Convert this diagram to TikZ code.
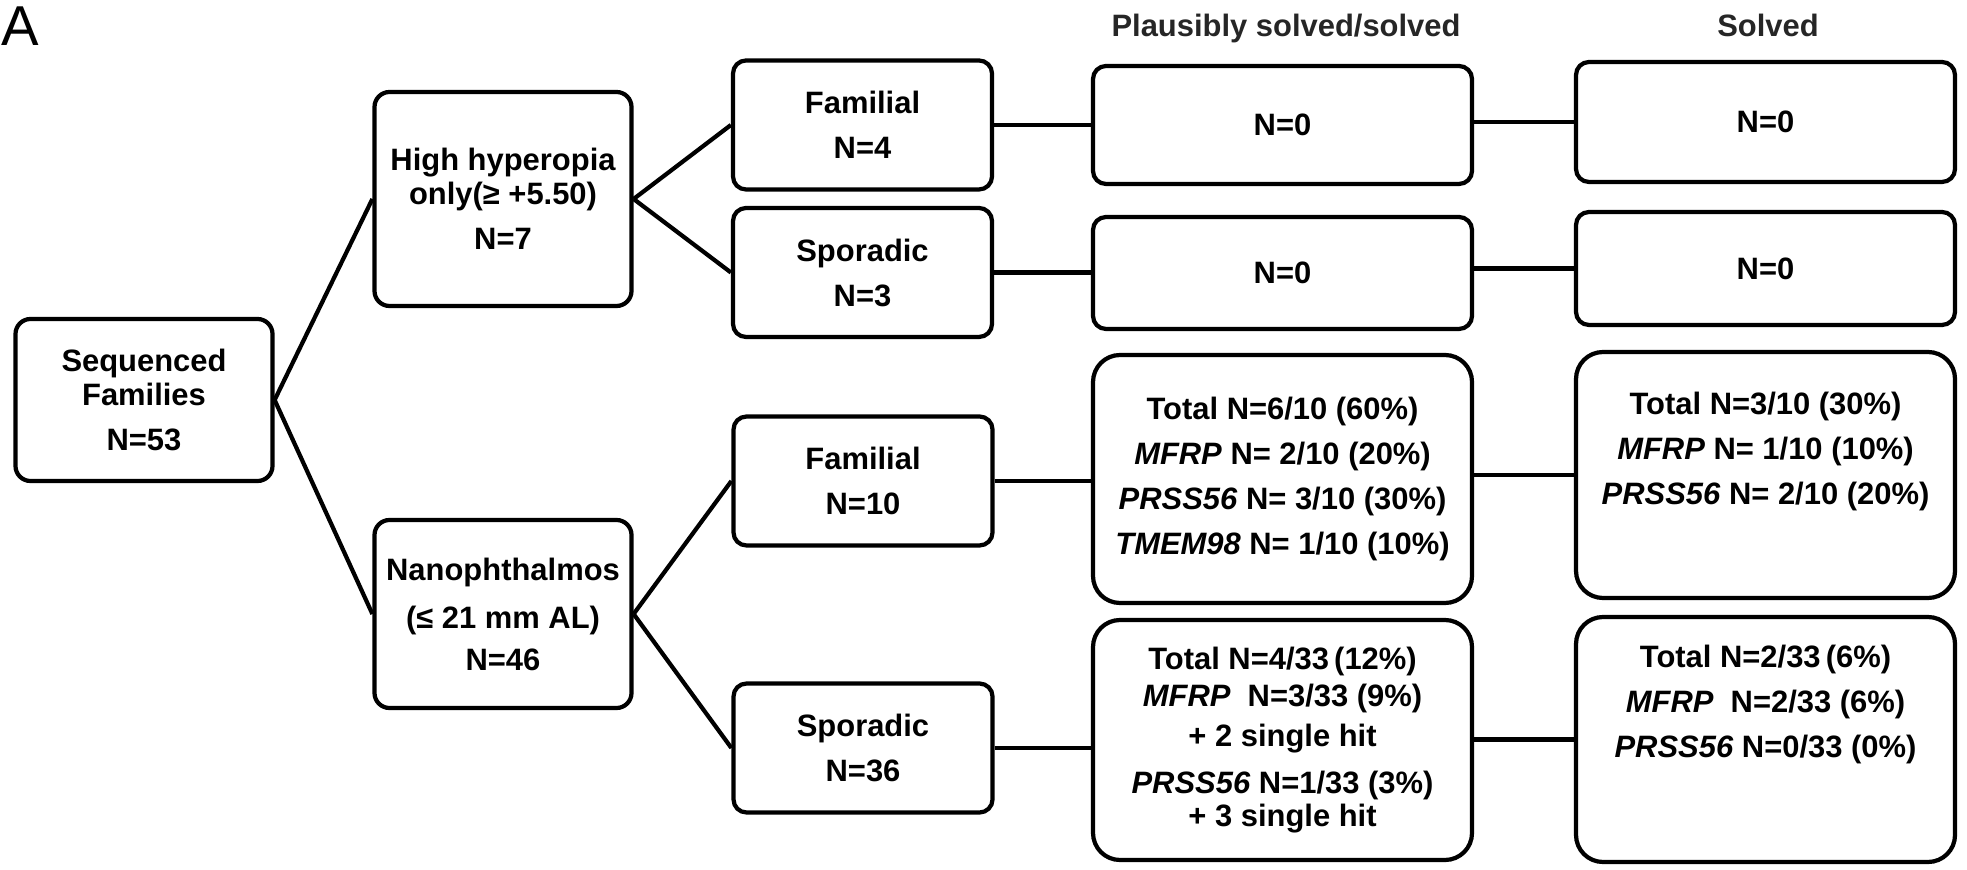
\documentclass[tikz,border=0pt]{standalone}
\usepackage{fontspec}
\setmainfont{Liberation Sans}
\usetikzlibrary{calc}

\begin{document}
\begin{tikzpicture}[
	box/.style={draw, line width=1.2pt, rounded corners=1.3mm, align=center, inner sep=0pt,
		font=\bfseries\fontsize{8.8}{12.8}\selectfont},
	groupbox/.style={box, minimum width=2.57cm, rounded corners=1.5mm},
	splitbox/.style={box, minimum width=2.59cm, minimum height=1.29cm},
	resbox/.style={box, minimum width=3.79cm},
	bigbox/.style={resbox, rounded corners=2.7mm},
	colhead/.style={anchor=base, text=black!85, font=\bfseries\fontsize{8.8}{10}\selectfont},
	link/.style={line width=1.2pt}
	]
	\useasboundingbox (0,0) rectangle (19.67,8.69);
	
	%panel letter
	\node[anchor=base west, inner sep=0pt, font=\fontsize{16}{16}\selectfont] (panel) at (0.01,8.23) {A};
	
	%column heads
	\node[colhead] (headplaus) at (12.86,8.32) {Plausibly solved/solved};
	\node[colhead] (headsolved) at (17.68,8.32) {Solved};
	
	%left boxes
	\node[groupbox, minimum height=1.62cm] (seq) at (1.44,4.69) {Sequenced\\[-3pt]Families\\N=53};
	\node[groupbox, minimum height=2.14cm] (hh) at (5.03,6.70) {High hyperopia\\[-3pt]only(≥ +5.50)\\N=7};
	\node[groupbox, minimum height=1.88cm] (nano) at (5.03,2.55) {Nanophthalmos\\[1pt](≤ 21 mm AL)\\[-1pt]N=46};
	
	%familial / sporadic
	\node[splitbox] (fam1) at (8.625,7.44) {Familial\\N=4};
	\node[splitbox] (spo1) at (8.625,5.965) {Sporadic\\N=3};
	\node[splitbox] (fam2) at (8.63,3.88) {Familial\\N=10};
	\node[splitbox] (spo2) at (8.63,1.21) {Sporadic\\N=36};
	
	%plausibly solved/solved
	\node[resbox, minimum height=1.18cm] (ps1) at (12.825,7.44) {N=0};
	\node[resbox, minimum height=1.12cm] (ps2) at (12.825,5.96) {N=0};
	\node[bigbox, minimum height=2.48cm] (ps3) at (12.825,3.90) {Total N=6/10 (60\%)\\
		\textit{MFRP} N= 2/10 (20\%)\\
		\textit{PRSS56} N= 3/10 (30\%)\\
		\textit{TMEM98} N= 1/10 (10\%)};
	\node[bigbox, minimum height=2.40cm] (ps4) at (12.825,1.29) {Total N=4/33\,(12\%)\\[-2.3pt]
		\textit{MFRP}~~N=3/33 (9\%)\\[-1.4pt]
		+ 2 single hit\\[0.6pt]
		\textit{PRSS56} N=1/33 (3\%)\\[-3.4pt]
		+ 3 single hit};
	
	%solved
	\node[resbox, minimum height=1.20cm] (s1) at (17.655,7.47) {N=0};
	\node[resbox, minimum height=1.13cm] (s2) at (17.655,6.005) {N=0};
	\node[bigbox, minimum height=2.46cm, text depth=15pt] (s3) at (17.655,3.94) {Total N=3/10 (30\%)\\
		\textit{MFRP} N= 1/10 (10\%)\\
		\textit{PRSS56} N= 2/10 (20\%)};
	\node[bigbox, minimum height=2.45cm, text depth=22pt] (s4) at (17.655,1.295) {Total N=2/33\,(6\%)\\
		\textit{MFRP}~~N=2/33 (6\%)\\
		\textit{PRSS56} N=0/33 (0\%)};
	
	%lines
	\draw[link] (seq.east) -- (hh.west);
	\draw[link] (seq.east) -- (nano.west);
	\draw[link] (hh.east) -- (fam1.west);
	\draw[link] (hh.east) -- (spo1.west);
	\draw[link] (nano.east) -- (fam2.west);
	\draw[link] (nano.east) -- (spo2.west);
	%
	\draw[link] (fam1.east) -- (fam1.east -| ps1.west);
	\draw[link] (spo1.east) -- (spo1.east -| ps2.west);
	\draw[link] (fam2.east) -- (fam2.east -| ps3.west);
	\draw[link] (spo2.east) -- (spo2.east -| ps4.west);
	%
	\draw[link] (s1.west -| ps1.east) -- (s1.west);
	\draw[link] (s2.west -| ps2.east) -- (s2.west);
	\draw[link] (s3.west -| ps3.east) -- (s3.west);
	\draw[link] (s4.west -| ps4.east) -- (s4.west);
	
	%\draw[help lines] (0,0) grid (20,9);
\end{tikzpicture}
\end{document}
